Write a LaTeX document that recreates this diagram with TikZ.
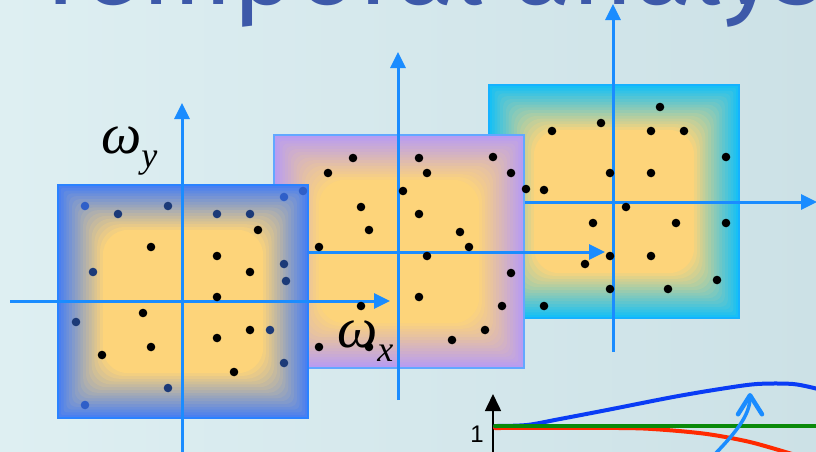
\documentclass[tikz,border=0pt]{standalone}
\usepackage{fontspec}
\newfontfamily\titlefont{Fira Sans}
\newfontfamily\tickfont{Liberation Sans}
\newfontfamily\greekfont{Liberation Serif}
\usetikzlibrary{arrows.meta}
\definecolor{bgA}{HTML}{DEEFF2}
\definecolor{bgB}{HTML}{CCE1E6}
\definecolor{ttl}{HTML}{3D59A9}
\definecolor{axc}{HTML}{1A8CFF}
\definecolor{glowY}{HTML}{FDD47A}
\definecolor{edgeA}{HTML}{4A7FF0}
\definecolor{edgeB}{HTML}{B89CF2}
\definecolor{edgeC}{HTML}{17C0F5}
\definecolor{rimA}{HTML}{2A82FF}
\definecolor{rimB}{HTML}{62A8FF}
\definecolor{rimC}{HTML}{15B2FF}
\definecolor{dotM}{HTML}{1C3A78}
\definecolor{dotE}{HTML}{2F5FC8}
\definecolor{crvB}{HTML}{0A3CF5}
\definecolor{crvR}{HTML}{FF2A00}
\definecolor{crvG}{HTML}{0A8A0A}
\tikzset{
  axisline/.style={line width=3pt,axc,-{Triangle[length=16pt,width=15pt]}},
  pdot/.style={fill=black},
  pdotm/.style={fill=dotM},
  pdote/.style={fill=dotE},
  curve/.style={line width=4pt,line cap=round},
  hintarrow/.style={line width=3.5pt,axc,line cap=round,
    -{Straight Barb[length=19pt,width=24pt,line width=4.5pt,round]}},
  yaxis/.style={line width=1.6pt,black,-{Triangle[length=17pt,width=16pt]}},
  omega/.style={font=\greekfont\itshape\fontsize{57}{57}\selectfont,
                anchor=base west,inner sep=0pt},
}
\newcommand{\glowplane}[4]{%
  \foreach \i in {0,...,16}{
    \pgfmathsetmacro{\mixp}{100*\i/16}
    \pgfmathsetmacro{\rc}{1.6*\i}
    \fill[glowY!\mixp!#3,rounded corners=\rc pt]
      (#1+\i*2.8,#2+\i*2.8) rectangle (#1+250-\i*2.8,#2+233-\i*2.8);
  }
  \draw[#4,line width=1.5pt] (#1,#2) rectangle ++(250,233);
}
\newcommand{\subsc}[1]{\raisebox{-14pt}{\fontsize{36}{36}\selectfont #1}}

\begin{document}
\begin{tikzpicture}[x=1pt,y=-1pt]
  \useasboundingbox (0,0) rectangle (816,451);
  \clip (0,0) rectangle (816,451);
  \shade[left color=bgA,right color=bgB] (0,0) rectangle (816,451);
  \node[font=\titlefont\fontsize{107}{107}\selectfont,text=ttl,
        anchor=base west,inner sep=0pt] (title) at (33,4) {Temporal analysis};

  % back plane
  \glowplane{489}{85}{edgeC}{rimC}
  \coordinate (c3y0) at (613,352);
  \coordinate (c3y1) at (613,4);
  \coordinate (c3x0) at (480,202);
  \coordinate (c3x1) at (817,202);
  \draw[axisline] (c3y0) -- (c3y1);
  \draw[axisline] (c3x0) -- (c3x1);
  \foreach \p in {(660,107),(601,123),(552,131),(651,131),(684,131),(726,157),
                  (610,173),(651,173),(544,190),(626,207),(593,223),(676,223),
                  (726,223),(610,256),(651,256),(585,264),(717,280),(610,289),
                  (668,289),(544,306)}
    \fill[pdot] \p circle (4.3);

  % middle plane
  \glowplane{274}{135}{edgeB}{rimB}
  \coordinate (c2y0) at (398,400);
  \coordinate (c2y1) at (398,52);
  \coordinate (c2x0) at (250,252);
  \coordinate (c2x1) at (605,252);
  \draw[axisline] (c2y0) -- (c2y1);
  \draw[axisline] (c2x0) -- (c2x1);

  % front plane
  \glowplane{58}{185}{edgeA}{rimA}
  \coordinate (c1y0) at (182,452);
  \coordinate (c1y1) at (182,103);
  \coordinate (c1x0) at (10,301);
  \coordinate (c1x1) at (390,301);
  \draw[axisline] (c1y0) -- (c1y1);
  \draw[axisline] (c1x0) -- (c1x1);

  \node[omega] (wy) at (101,153) {ω\subsc{y}};
  \node[omega] (wx) at (337,347) {ω\subsc{x}};

  \foreach \p in {(353,158),(419,158),(493,157),(328,173),(427,173),(511,173),
                  (526,189),(403,191),(361,207),(419,214),(369,230),(460,232),
                  (319,247),(469,247),(427,256),(511,273),(419,297),(361,306),
                  (502,306),(485,330),(452,340),(319,347),(369,347)}
    \fill[pdot] \p circle (4.3);
  \foreach \p in {(258,230),(151,247),(217,256),(250,272),(217,297),(143,313),
                  (250,330),(217,338),(151,347),(102,355),(234,372)}
    \fill[pdot] \p circle (4.3);
  \foreach \p in {(118,214),(168,206),(217,214),(250,214),(93,272),(284,264),
                  (286,281),(270,330),(284,363),(168,388),(76,322)}
    \fill[pdotm] \p circle (4.3);
  \foreach \p in {(85,206),(284,197),(303,191),(85,405)}
    \fill[pdote] \p circle (4.3);

  % response plot
  \coordinate (ax0) at (493,452);
  \coordinate (ax1) at (493,394);
  \draw[yaxis] (ax0) -- (ax1);
  \node[font=\tickfont\fontsize{24}{24}\selectfont,anchor=base east,
        inner sep=0pt] (one) at (484,442) {1};
  \draw[curve,crvR] plot[smooth] coordinates {(495,428) (620,428) (660,429.5)
        (707,434) (750,442) (792,454)};
  \draw[curve,crvB] plot[smooth] coordinates {(495,426) (527,425) (560,419)
        (607,410) (673,397) (720,389) (757,384) (793,384) (818,389)};
  \draw[curve,crvG] (495,426) -- (820,426);
  \coordinate (hs) at (716,453);
  \coordinate (he) at (750,393);
  \draw[hintarrow] (hs) .. controls (736,432) and (750,415) .. (he);
\end{tikzpicture}
\end{document}
